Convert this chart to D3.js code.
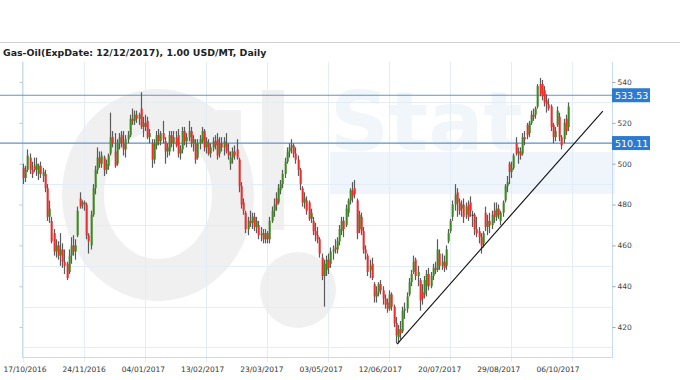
<!DOCTYPE html>
<html>
<head>
<meta charset="utf-8">
<script src="https://cdn.jsdelivr.net/npm/d3@7"></script>
<style>
body { margin: 0; background: #fff; }
svg { display: block; font-family: "DejaVu Sans", Verdana, sans-serif; }
</style>
</head>
<body>
<script>
// time axis labels, one every 28 trading days
var tickLabels = ["17/10/2016","24/11/2016","04/01/2017","13/02/2017","23/03/2017",
                  "03/05/2017","12/06/2017","20/07/2017","29/08/2017","06/10/2017"];
var tickStep = 28;
var yTicks = [420, 440, 460, 480, 500, 520, 540];
var yGrid = [410, 430, 450, 470, 490, 510, 530];
var levels = [533.53, 510.11];
// trend line ends: [bar index, price]
var trendFrom = [171.6, 411.7], trendTo = [266, 525.8];

// daily candles
var opens = [
498,493,497,503,497,499,497,495,499,494,
495,488,474,472,466,457,460,455,458,452,
451,447,455,460,457,465,483,480,481,480,
465,460,475,488,497,503,500,503,497,499,
505,513,506,500,510,514,510,507,512,514,
522,521,524,522,527,518,520,521,513,510,
502,509,514,511,515,511,506,506,514,510,
513,514,505,507,516,511,513,516,510,510,
503,510,511,516,508,510,505,508,511,512,
505,510,508,510,506,500,503,506,507,502,
489,481,476,468,472,471,474,469,470,465,
466,463,466,463,472,477,483,481,487,490,
495,501,506,508,509,505,502,497,488,481,
482,481,473,472,467,465,463,454,445,448,
453,451,457,459,458,462,467,472,470,476,
482,487,488,482,468,474,467,458,455,448,
451,441,435,437,441,438,434,432,429,436,
430,422,415,419,418,428,429,436,442,447,
453,445,443,437,436,440,446,440,445,449,
448,456,450,452,450,462,467,474,480,486,
481,478,480,475,480,481,475,475,468,467,
464,461,476,469,472,470,477,474,478,472,
476,482,489,500,496,498,510,505,506,505,
513,519,515,520,524,524,528,539,539,536,
531,529,528,519,513,519,523,513,512,522,
518];
var highs = [
500,499,507,505,501,503,503,500,501,498,
497,490,482,474,468,463,462,466,461,458,
452,458,464,465,463,479,486,482,482,481,
466,477,490,499,508,506,506,504,502,505,
525,516,515,512,515,516,516,514,516,524,
527,526,526,525,535,523,524,523,517,512,
512,516,517,516,521,513,510,516,516,516,
516,517,509,518,518,515,521,518,514,512,
512,514,518,517,513,512,510,513,514,515,
513,513,513,515,510,506,508,509,512,503,
491,483,477,474,477,476,476,474,472,469,
468,468,467,474,479,483,486,490,492,497,
503,508,510,512,510,508,504,498,489,486,
484,482,478,474,471,469,464,456,453,455,
456,459,460,463,464,470,474,474,480,483,
488,491,492,483,477,476,469,460,456,453,
454,442,440,442,443,440,436,434,438,437,
431,425,421,423,430,432,437,444,448,455,
454,450,444,441,445,448,449,447,451,452,
463,458,456,455,460,468,473,482,490,488,
483,482,483,481,482,484,477,476,474,469,
466,467,479,475,476,477,481,481,480,477,
482,490,494,501,501,505,513,508,508,515,
516,520,521,526,527,528,539,542,541,538,
534,532,529,520,518,528,525,514,522,524,
530];
var lows = [
490,491,496,495,493,496,494,492,493,491,
486,472,471,461,455,454,453,450,449,446,
443,446,451,455,453,464,478,478,477,463,
456,458,474,485,495,498,498,494,495,497,
504,508,498,499,507,508,504,503,510,513,
519,519,520,519,517,513,516,512,510,498,
500,507,509,509,510,500,503,504,508,506,
508,503,502,505,509,508,511,508,506,500,
502,507,510,506,505,504,503,506,507,502,
503,506,504,505,502,497,500,502,502,486,
478,475,466,465,469,468,467,466,463,462,
461,461,461,461,471,474,477,480,485,488,
493,500,503,505,503,500,494,487,479,478,
475,472,471,465,462,461,454,443,430,445,
446,449,453,456,456,460,465,464,469,474,
480,481,483,463,466,465,456,453,445,444,
443,432,432,435,436,431,429,427,428,428,
420,412,412,414,417,424,427,435,440,446,
443,440,428,431,434,435,438,439,443,446,
447,448,448,447,448,461,466,472,477,474,
475,474,471,473,472,474,469,465,464,461,
456,459,467,465,466,468,471,472,473,470,
474,481,486,490,493,497,504,500,502,504,
509,512,513,519,521,522,527,533,531,528,
525,526,516,510,511,518,511,507,510,514,
516];
var closes = [
493,497,504,497,495,497,500,499,495,496,
488,474,478,462,457,460,455,458,452,450,
444,455,460,457,460,477,479,481,480,465,
462,475,488,497,503,500,504,497,500,504,
513,510,499,510,513,510,507,512,514,522,
521,524,522,524,518,520,518,513,515,502,
510,514,511,515,512,506,508,514,510,513,
509,505,507,516,511,513,516,510,512,502,
510,512,516,508,511,505,508,511,509,504,
510,508,511,506,504,503,506,504,503,489,
480,477,468,472,471,474,469,472,465,466,
463,466,463,472,477,480,480,488,490,495,
501,506,508,509,505,502,497,490,481,483,
477,473,476,467,465,463,456,445,451,453,
449,457,458,458,462,468,472,468,478,482,
487,484,485,466,475,467,458,456,447,450,
444,435,437,441,438,434,431,429,436,430,
422,416,419,417,428,429,435,442,446,452,
445,447,433,434,443,446,440,445,449,448,
458,450,452,449,458,466,472,480,485,481,
477,480,474,479,474,477,475,468,466,464,
460,466,469,472,470,475,474,478,475,476,
481,489,491,496,498,504,505,506,504,513,
512,514,520,524,523,527,538,534,533,530,
529,527,518,513,516,526,513,509,520,516,
528];

var W = 680, H = 380;
var svg = d3.select("body").append("svg")
    .attr("width", W)
    .attr("height", H);

var x = d3.scaleLinear().domain([0, 270.2]).range([23, 612]);
var y = d3.scaleLinear().domain([405, 550]).range([357.7, 61.6]);
var xLab = d3.scalePoint().domain(tickLabels).range([25, 558]);

// faint watermark behind the chart
var wm = svg.append("g");
wm.append("rect").attr("x", 330).attr("y", 152).attr("width", 285).attr("height", 42)
  .attr("fill", "#f0f5fb");
wm.append("text").attr("x", 330).attr("y", 150)
  .style("font-size", "82px").style("font-weight", "bold")
  .attr("fill", "#f1f6fb").text("Stat");
wm.append("ellipse").attr("cx", 158).attr("cy", 195).attr("rx", 75).attr("ry", 85)
  .attr("fill", "none").attr("stroke", "#f0f0f0").attr("stroke-width", 42);
wm.append("rect").attr("x", 217).attr("y", 110).attr("width", 24).attr("height", 100)
  .attr("fill", "#f0f0f0");
wm.append("rect").attr("x", 262).attr("y", 90).attr("width", 22).attr("height", 140)
  .attr("fill", "#f0f0f0");
wm.append("circle").attr("cx", 298).attr("cy", 290).attr("r", 38)
  .attr("fill", "#f0f0f0");

// title and top rule
svg.append("line")
    .attr("x1", 0).attr("x2", W).attr("y1", 42.5).attr("y2", 42.5)
    .attr("stroke", "#cfcfcf");
svg.append("text")
    .attr("x", 3).attr("y", 56)
    .style("font-size", "9.4px").style("font-weight", "bold")
    .attr("fill", "#222")
    .text("Gas-Oil(ExpDate: 12/12/2017), 1.00 USD/MT, Daily");

// grid
var grid = svg.append("g").attr("stroke", "#e3edf7").attr("stroke-width", 1);
grid.selectAll(".hg").data(yGrid).enter().append("line")
    .attr("x1", 22).attr("x2", 612)
    .attr("y1", function(d) { return Math.round(y(d)) + 0.5; })
    .attr("y2", function(d) { return Math.round(y(d)) + 0.5; });
grid.selectAll(".vg").data(tickLabels).enter().append("line")
    .attr("x1", function(d, i) { return Math.round(x(i * tickStep)) + 0.5; })
    .attr("x2", function(d, i) { return Math.round(x(i * tickStep)) + 0.5; })
    .attr("y1", 62).attr("y2", 362);

// axes
var axisCol = "#c9dcef";
svg.append("line").attr("x1", 22.5).attr("x2", 22.5).attr("y1", 62).attr("y2", 358)
    .attr("stroke", axisCol);
svg.append("line").attr("x1", 612.5).attr("x2", 612.5).attr("y1", 62).attr("y2", 358)
    .attr("stroke", axisCol);
svg.append("line").attr("x1", 22).attr("x2", 613).attr("y1", 357.5).attr("y2", 357.5)
    .attr("stroke", axisCol);

var yR = svg.append("g")
    .attr("transform", "translate(612.5,0)")
    .call(d3.axisRight(y).tickValues(yTicks).tickSize(3).tickPadding(2));
yR.select(".domain").remove();
yR.selectAll(".tick line").attr("stroke", "#9aa7b4");
yR.selectAll("text").attr("fill", "#444")
    .style("font-size", "7.5px").style("font-family", "'DejaVu Sans', Verdana, sans-serif");

var yL = svg.append("g")
    .attr("transform", "translate(22.5,0)")
    .call(d3.axisLeft(y).tickValues(yTicks).tickSize(3).tickFormat(""));
yL.select(".domain").remove();
yL.selectAll(".tick line").attr("stroke", "#b8c6d4");

svg.append("g").selectAll("text")
    .data(tickLabels).enter().append("text")
    .attr("x", function(d) { return xLab(d); })
    .attr("y", 372)
    .attr("text-anchor", "middle")
    .attr("fill", "#333")
    .style("font-size", "7.5px")
    .text(function(d) { return d; });

// level lines
svg.append("g").selectAll("line")
    .data(levels).enter().append("line")
    .attr("x1", 0).attr("x2", 612)
    .attr("y1", function(d) { return y(d); })
    .attr("y2", function(d) { return y(d); })
    .attr("stroke", "#5b95d3").attr("stroke-width", 1.2);

// candles
var candles = svg.append("g");
opens.forEach(function(o, i) {
  var c = closes[i];
  var cx = Math.round(x(i)) + 0.5;
  candles.append("line")
      .attr("x1", cx).attr("x2", cx)
      .attr("y1", y(highs[i])).attr("y2", y(lows[i]))
      .attr("stroke", "#5a5a5a").attr("stroke-width", 1.2);
  var col = c > o ? "#3a8a1c" : (c < o ? "#f42a2a" : "#222");
  var top = y(Math.max(o, c)), bot = y(Math.min(o, c));
  candles.append("rect")
      .attr("x", cx - 0.8).attr("width", 2)
      .attr("y", top).attr("height", Math.max(1, bot - top))
      .attr("fill", col);
});

// trend line
svg.append("line")
    .attr("x1", x(trendFrom[0])).attr("y1", y(trendFrom[1]))
    .attr("x2", x(trendTo[0])).attr("y2", y(trendTo[1]))
    .attr("stroke", "#111").attr("stroke-width", 1.1);

// level value boxes
var box = svg.append("g").selectAll("g")
    .data(levels).enter().append("g")
    .attr("transform", function(d) { return "translate(612," + y(d) + ")"; });
box.append("rect")
    .attr("x", 0).attr("y", -7).attr("width", 38).attr("height", 14)
    .attr("fill", "#2c7bd0");
box.append("text")
    .attr("x", 3).attr("y", 3.5)
    .attr("fill", "#fff")
    .style("font-size", "9.5px")
    .text(function(d) { return d.toFixed(2); });
</script>
</body>
</html>
